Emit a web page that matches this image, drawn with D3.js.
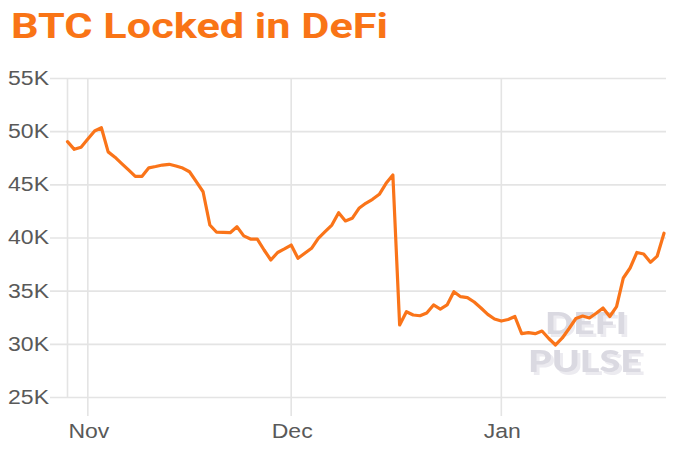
<!DOCTYPE html>
<html>
<head>
<meta charset="utf-8">
<script src="https://cdn.jsdelivr.net/npm/d3@7"></script>
<style>
  html, body { margin: 0; padding: 0; background: #fff; }
  svg { display: block; }
</style>
</head>
<body>
<svg id="chart" width="675" height="449"></svg>
<script>
const title = "BTC Locked in DeFi";
const startDate = "2021-10-29";
// BTC locked, daily, in thousands
const btcLocked = [
  49.06, 48.34, 48.53, 49.31, 50.06, 50.37, 48.10, 47.60, 47.00, 46.40,
  45.80, 45.80, 46.60, 46.72, 46.86, 46.93, 46.77, 46.58, 46.23, 45.30,
  44.35, 41.22, 40.54, 40.52, 40.50, 41.06, 40.20, 39.90, 39.90, 38.87,
  37.93, 38.64, 38.97, 39.34, 38.09, 38.56, 39.03, 39.97, 40.59, 41.22,
  42.38, 41.60, 41.85, 42.79, 43.26, 43.64, 44.11, 45.14, 45.92, 31.82,
  33.07, 32.76, 32.69, 32.95, 33.70, 33.32, 33.70, 34.95, 34.48, 34.39,
  33.98, 33.42, 32.82, 32.38, 32.19, 32.33, 32.62, 31.00, 31.10, 31.00,
  31.25, 30.55, 29.94, 30.60, 31.49, 32.43, 32.66, 32.48, 32.92, 33.42,
  32.62, 33.54, 36.24, 37.18, 38.64, 38.50, 37.71, 38.30, 40.45
];
const yTicks = [25000, 30000, 35000, 40000, 45000, 50000, 55000];
const xTickDates = ["2021-11-01", "2021-12-01", "2022-01-01"];
const xTickLabels = ["Nov", "Dec", "Jan"];
const watermark = ["DEFI", "PULSE"];

(function () {
const parse = d3.utcParse("%Y-%m-%d");
const t0 = parse(startDate);
const data = btcLocked.map((v, i) => ({ date: d3.utcDay.offset(t0, i), value: v * 1000 }));

const svg = d3.select("#chart");
const mLeft = 67.5, mRight = 664, mTop = 78.5, mBottom = 397.5;
const stretch = 1.18;

const defs = svg.append("defs");
const f = defs.append("filter").attr("id", "wmShadow")
  .attr("x", "-10%").attr("y", "-10%").attr("width", "130%").attr("height", "140%");
f.append("feOffset").attr("in", "SourceAlpha").attr("dx", 2.5).attr("dy", 2.5).attr("result", "off");
f.append("feFlood").attr("flood-color", "#ecebf0").attr("result", "col");
f.append("feComposite").attr("in", "col").attr("in2", "off").attr("operator", "in").attr("result", "sh");
const fm = f.append("feMerge");
fm.append("feMergeNode").attr("in", "sh");
fm.append("feMergeNode").attr("in", "SourceGraphic");

const x = d3.scaleUtc()
  .domain([data[0].date, data[data.length - 1].date])
  .range([mLeft, mRight]);
const y = d3.scaleLinear().domain([25000, 55000]).range([mBottom, mTop]);

const gridColor = "#e4e4e4";

// horizontal gridlines
svg.append("g").selectAll("line").data(yTicks).join("line")
  .attr("x1", 50).attr("x2", 666)
  .attr("y1", d => y(d)).attr("y2", d => y(d))
  .attr("stroke", gridColor).attr("stroke-width", 1.6);

// left edge line
svg.append("line")
  .attr("x1", mLeft).attr("x2", mLeft).attr("y1", mTop).attr("y2", mBottom)
  .attr("stroke", gridColor).attr("stroke-width", 1.6);

// vertical month gridlines
const xTicks = xTickDates.map(parse);
svg.append("g").selectAll("line").data(xTicks).join("line")
  .attr("x1", d => x(d)).attr("x2", d => x(d))
  .attr("y1", mTop).attr("y2", 416)
  .attr("stroke", gridColor).attr("stroke-width", 1.6);

// y labels
svg.append("g").selectAll("text").data(yTicks).join("text")
  .attr("transform", d => `translate(49,${y(d)}) scale(${stretch},1)`)
  .attr("text-anchor", "end").attr("dominant-baseline", "central")
  .attr("font-family", "Liberation Sans, Arial, sans-serif")
  .attr("font-size", 19.5).attr("fill", "#595959")
  .text(d => (d / 1000) + "K");

// x labels
svg.append("g").selectAll("text").data(xTicks).join("text")
  .attr("transform", d => `translate(${x(d) + 1},438) scale(${stretch},1)`)
  .attr("text-anchor", "middle")
  .attr("font-family", "Liberation Sans, Arial, sans-serif")
  .attr("font-size", 19.5).attr("fill", "#595959")
  .text((d, i) => xTickLabels[i]);

// watermark
const wm = svg.append("g").attr("font-family", "Lato, sans-serif").attr("font-weight", 900)
  .attr("font-size", 31).attr("filter", "url(#wmShadow)");
const wmPos = [[545, 334, 82], [528, 372, 114]];
watermark.forEach((w, i) => {
  wm.append("text").attr("x", wmPos[i][0]).attr("y", wmPos[i][1])
    .attr("textLength", wmPos[i][2]).attr("lengthAdjust", "spacingAndGlyphs")
    .attr("fill", "#dad9e1").text(w);
});

// line
const line = d3.line().x(d => x(d.date)).y(d => y(d.value));
svg.append("path").datum(data)
  .attr("d", line)
  .attr("fill", "none")
  .attr("stroke", "#fa7419")
  .attr("stroke-width", 3.2)
  .attr("stroke-linejoin", "round")
  .attr("stroke-linecap", "round");

// title
svg.append("text")
  .attr("x", 11).attr("y", 38)
  .attr("font-family", "Roboto, sans-serif").attr("font-weight", 700)
  .attr("font-size", 35).attr("fill", "#f97416")
  .attr("textLength", 377).attr("lengthAdjust", "spacingAndGlyphs")
  .text(title);
})();
</script>
</body>
</html>
